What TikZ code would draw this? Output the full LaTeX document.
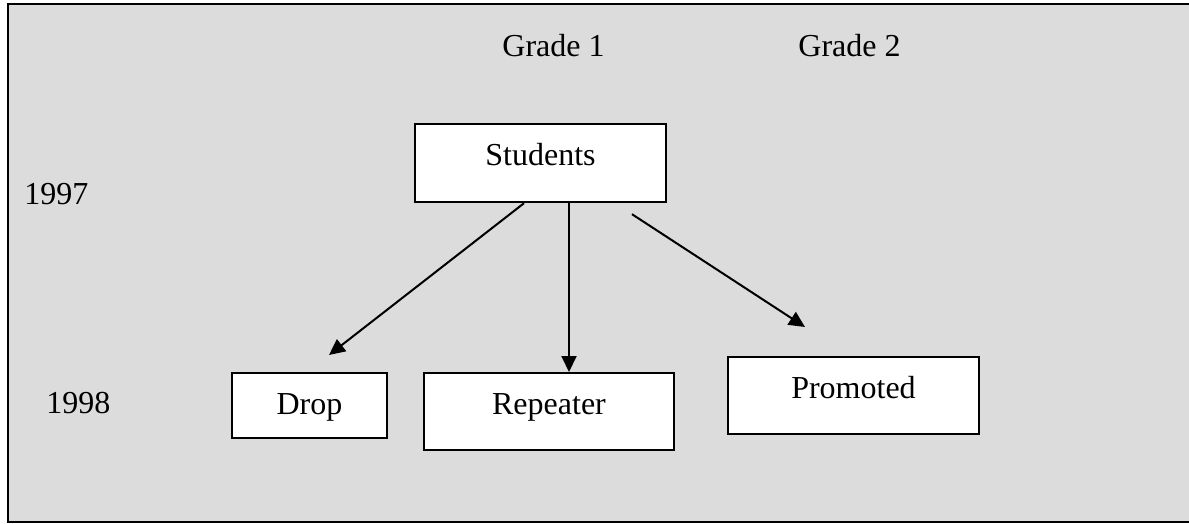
\documentclass[tikz,border=0pt]{standalone}
\usepackage{fontspec}
\setmainfont{Liberation Serif}
\usepackage{tikz}
\usetikzlibrary{positioning, calc, arrows.meta}
\definecolor{panelgray}{RGB}{220,220,220}

\begin{document}
\begin{tikzpicture}[x=0.5pt, y=-0.5pt]
\tikzstyle{box}=[draw=black, line width=1.1pt, fill=white, inner xsep=0pt, inner ysep=0pt,
font=\fontsize{16}{19}\selectfont, text height=20.5pt, anchor=north]
\tikzstyle{caption}=[inner sep=0pt, font=\fontsize{16}{19}\selectfont, anchor=base west]
\tikzstyle{flow}=[line width=1pt, -{Triangle[length=8pt, width=7.5pt]}]

\useasboundingbox (0,0) rectangle (1189,524);

% panel
\draw[line width=1pt, fill=panelgray] (8,4) rectangle (1220,522);

% headings
\node (grade1) [caption] at (502,57) {Grade 1};
\node (grade2) [caption] at (798,57) {Grade 2};
\node (y1997) [caption] at (24,205) {1997};
\node (y1998) [caption] at (46,413) {1998};

% boxes
\node (students) [box, minimum width=125.5pt, text depth=18.5pt] at (540.5,123) {Students};
\node (drop) [box, minimum width=77.5pt, text depth=12pt] at (309.5,372) {Drop};
\node (repeater) [box, minimum width=125pt, text depth=18pt, right=17.4pt of drop.north east, anchor=north west] {Repeater};
\node (promoted) [box, minimum width=125.5pt, text depth=18pt] at (853.5,356) {Promoted};

% connections
\draw[flow] ([xshift=-8.25pt]students.south) -- ([xshift=9.75pt, yshift=8.5pt]drop.north);
\draw[flow] ([xshift=14.25pt]students.south) -- ([xshift=14.25pt]students.south |- repeater.north);
\draw[flow] ([xshift=45.75pt, yshift=-5.5pt]students.south) -- ([xshift=-24.25pt, yshift=14.5pt]promoted.north);

\end{tikzpicture}
\end{document}
